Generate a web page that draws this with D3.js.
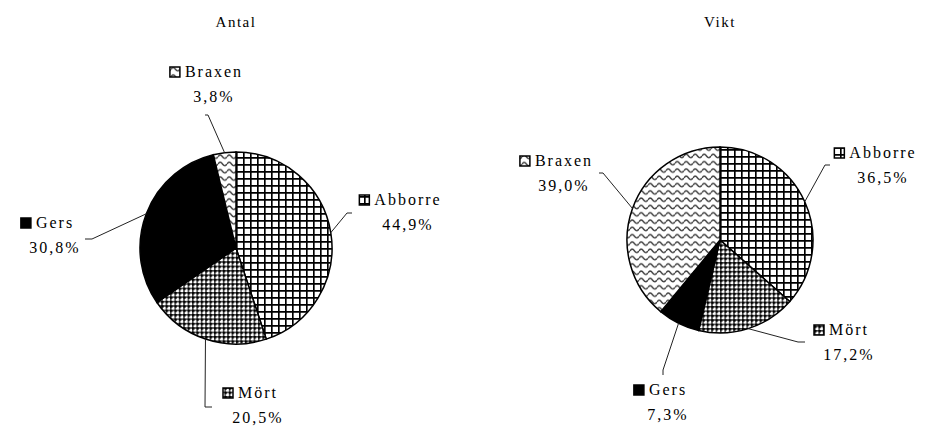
<!DOCTYPE html>
<html>
<head>
<meta charset="utf-8">
<script src="https://cdn.jsdelivr.net/npm/d3@7"></script>
<style>
  body { margin: 0; background: #fff; }
</style>
</head>
<body>
<div id="chart"></div>
<script>
// data
const categories = ["Abborre", "Mört", "Gers", "Braxen"];
const antalValues = [44.9, 20.5, 30.8, 3.8];
const viktValues = [36.5, 17.2, 7.3, 39.0];
const chartTitles = ["Antal", "Vikt"];
const fills = ["grid", "checker", "solid", "wave"];

const width = 930, height = 430;
const serif = "'Liberation Serif', 'Times New Roman', serif";

// layout: pie centre/radius, label anchor (name centre x, baseline y), leader elbow and end
const layouts = [
  { cx: 236, cy: 248, r: 96,
    labels: [
      { x: 407, y: 205, elbow: [347, 213], end: [352, 213] },
      { x: 257, y: 398, elbow: [205, 407], end: [212, 407] },
      { x: 54,  y: 228, elbow: [92, 239],  end: [85, 239] },
      { x: 213, y: 77,  elbow: [208, 115], end: [205, 115] }
    ] },
  { cx: 720, cy: 240, r: 93,
    labels: [
      { x: 882, y: 158, elbow: [825, 165], end: [830, 165] },
      { x: 848, y: 335, elbow: [798, 342], end: [805, 342] },
      { x: 667, y: 395, elbow: [663, 370], end: [663, 375] },
      { x: 563, y: 166, elbow: [603, 173], end: [599, 173] }
    ] }
];

const svg = d3.select("#chart").append("svg")
    .attr("width", width)
    .attr("height", height);

svg.append("rect").attr("width", width).attr("height", height).attr("fill", "#fff");

const defs = svg.append("defs");

// square grid
const pGrid = defs.append("pattern").attr("id", "grid")
    .attr("patternUnits", "userSpaceOnUse").attr("width", 7).attr("height", 7);
pGrid.append("rect").attr("width", 7).attr("height", 7).attr("fill", "#fff");
pGrid.append("path").attr("d", "M0 0.8H7M0.8 0V7")
    .attr("stroke", "#000").attr("stroke-width", 1.7);

// small checker
const pChk = defs.append("pattern").attr("id", "checker")
    .attr("patternUnits", "userSpaceOnUse").attr("width", 4.4).attr("height", 4.4);
pChk.append("rect").attr("width", 4.4).attr("height", 4.4).attr("fill", "#fff");
pChk.append("rect").attr("width", 4.4).attr("height", 1.6).attr("fill", "#444");
pChk.append("rect").attr("width", 1.6).attr("height", 4.4).attr("fill", "#444");
pChk.append("rect").attr("width", 2.4).attr("height", 2.4).attr("fill", "#000");

// waves
const pWave = defs.append("pattern").attr("id", "wave")
    .attr("patternUnits", "userSpaceOnUse").attr("width", 9).attr("height", 7.3);
pWave.append("rect").attr("width", 9).attr("height", 7.3).attr("fill", "#fff");
pWave.append("path").attr("d", "M0 3.6Q2.25 0.4 4.5 3.6T9 3.6")
    .attr("fill", "none").attr("stroke", "#444").attr("stroke-width", 1.5);

function fillOf(f) {
  return f === "solid" ? "#000" : "url(#" + f + ")";
}

const fmt = v => d3.format(".1f")(v).replace(".", ",") + "%";

function drawPie(values, title, lay) {
  const rows = categories.map((c, i) => ({ name: c, value: values[i], fill: fills[i] }));
  const pie = d3.pie().sort(null).value(d => d.value);
  const arcs = pie(rows);
  const arc = d3.arc().innerRadius(0).outerRadius(lay.r);
  const edge = d3.arc().innerRadius(lay.r).outerRadius(lay.r);

  const g = svg.append("g");

  g.append("text")
      .attr("x", lay.cx)
      .attr("y", 27)
      .attr("text-anchor", "middle")
      .style("font-family", serif)
      .style("font-size", "15px")
      .style("letter-spacing", "1.5px")
      .text(title);

  g.append("g")
      .attr("transform", "translate(" + lay.cx + "," + lay.cy + ")")
    .selectAll("path")
    .data(arcs)
    .join("path")
      .attr("d", arc)
      .attr("fill", d => fillOf(d.data.fill))
      .attr("stroke", "#000")
      .attr("stroke-width", 1.5);

  arcs.forEach((d, i) => {
    const l = lay.labels[i];
    const c = edge.centroid(d);
    const p0 = [lay.cx + c[0], lay.cy + c[1]];
    g.append("polyline")
        .attr("points", [p0, l.elbow, l.end].map(p => p.join(",")).join(" "))
        .attr("fill", "none")
        .attr("stroke", "#222")
        .attr("stroke-width", 1);

    const name = g.append("text")
        .attr("x", l.x + 1)
        .attr("y", l.y)
        .attr("text-anchor", "middle")
        .style("font-family", serif)
        .style("font-size", "16px")
        .style("letter-spacing", "2px")
        .text(d.data.name);
    const w = name.node().getComputedTextLength();

    g.append("rect")
        .attr("x", l.x - w / 2 - 14)
        .attr("y", l.y - 10)
        .attr("width", 10)
        .attr("height", 10)
        .attr("fill", fillOf(d.data.fill))
        .attr("stroke", "#000")
        .attr("stroke-width", 1.5);

    g.append("text")
        .attr("x", l.x + 1)
        .attr("y", l.y + 25)
        .attr("text-anchor", "middle")
        .style("font-family", serif)
        .style("font-size", "16px")
        .style("letter-spacing", "2px")
        .text(fmt(d.data.value));
  });
}

drawPie(antalValues, chartTitles[0], layouts[0]);
drawPie(viktValues, chartTitles[1], layouts[1]);
</script>
</body>
</html>
